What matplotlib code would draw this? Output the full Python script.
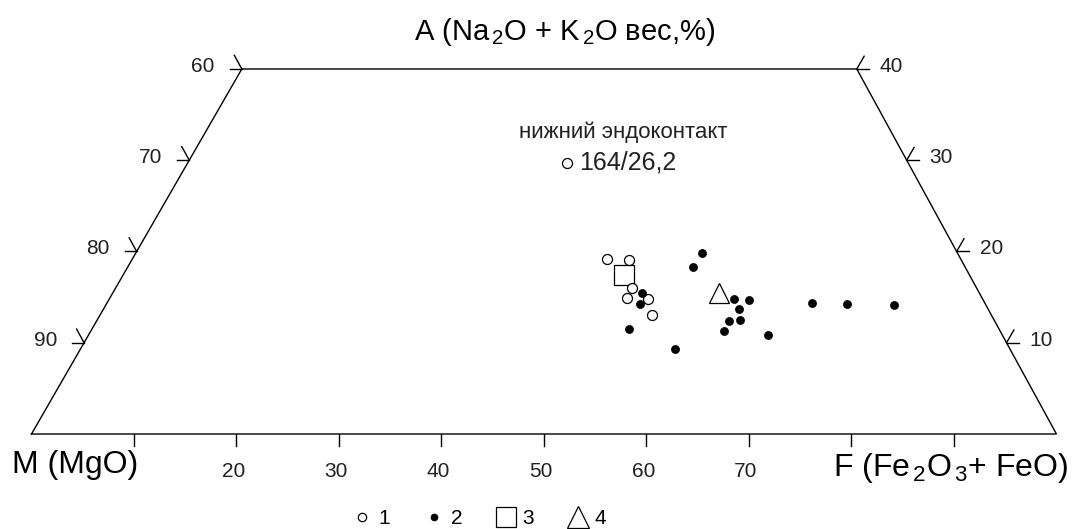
import matplotlib
matplotlib.use('Agg')
import matplotlib.pyplot as plt
from matplotlib.lines import Line2D

plt.rcParams['font.family'] = ['Liberation Sans', 'DejaVu Sans']
plt.rcParams['mathtext.fontset'] = 'custom'
plt.rcParams['mathtext.rm'] = 'Liberation Sans'
plt.rcParams['mathtext.it'] = 'Liberation Sans'

# ---- data: A = Na2O+K2O, F = Fe2O3+FeO, M = MgO (wt %), M = 100 - A - F ----
g1_A = [19.2, 19.1, 16.0, 14.9, 14.8, 13.0]
g1_F = [46.3, 48.5, 50.4, 50.5, 52.6, 53.9]
g2_A = [15.5, 14.2, 11.5, 9.3, 19.8, 18.3, 14.8, 14.7, 13.7, 12.4, 12.5, 11.3, 10.8, 14.4, 14.2, 14.1]
g2_F = [51.6, 52.1, 52.4, 58.0, 55.3, 55.2, 60.9, 62.5, 62.0, 61.7, 62.7, 61.8, 66.3, 68.8, 72.3, 76.9]
g3_A = [17.4]
g3_F = [48.9]
g4_A = [15.4]
g4_F = [59.2]
endo_A = [29.7]
endo_F = [37.0]
endo_label = "164/26,2"
endo_title = "нижний эндоконтакт"

A_top = 40
left_tick_M = [60, 70, 80, 90]
right_tick_A = [40, 30, 20, 10]
base_tick_F = [10, 20, 30, 40, 50, 60, 70, 80, 90]
base_label_F = [20, 30, 40, 50, 60, 70]
legend_labels = ["1", "2", "3", "4"]

SH = 0.513  # horizontal shift per unit A


def tx(A, F):
    return [f + SH * a for a, f in zip(A, F)], list(A)


fig = plt.figure(figsize=(10.83, 5.29), dpi=100)
ax = fig.add_axes([0, 0, 1, 1])
ax.set_xlim(-3.073, 102.59)
ax.set_ylim(-10.41, 47.56)
ax.axis('off')

# outline
ox, oy = tx([0, 0, A_top, A_top, 0], [0, 100, 100 - A_top, 0, 0])
ax.plot(ox, oy, color='black', lw=1.0, solid_joinstyle='miter')

# left ticks (M edge, F=0)
for m in left_tick_M:
    a = 100 - m
    x0 = SH * a
    ax.plot([x0, x0 - 1.17], [a, a], color='black', lw=1.0)
    t = 1.5
    ax.plot([x0, (0 - t) + SH * (a + t)], [a, a + t], color='black', lw=1.0)
    ax.text(x0 - 2.63, a + 0.3, str(m), ha='right', va='center', fontsize=15, color='#222222')

# right ticks (M=0 edge)
for a in right_tick_A:
    f = 100 - a
    x0 = f + SH * a
    ax.plot([x0, x0 + 1.17], [a, a], color='black', lw=1.0)
    t = 1.4
    ax.plot([x0, f + SH * (a + t)], [a, a + t], color='black', lw=1.0)
    ax.text(x0 + 2.24, a + 0.3, str(a), ha='left', va='center', fontsize=15, color='#222222')

# base ticks
for f in base_tick_F:
    ax.plot([f, f], [0, -1.315], color='black', lw=1.0)
for f in base_label_F:
    ax.text(f - 0.3, -4.16, str(f), ha='center', va='center', fontsize=15, color='#222222')

ax.text(-1.9, -3.4, "M (MgO)", ha='left', va='center', fontsize=23)
ax.text(78.2, -3.7, r"F (Fe$_{\,2}$O$_{\,3}$+ FeO)", ha='left', va='center', fontsize=23)
ax.text(52.05, 44.0, r"A (Na$_{\,2}$O + K$_{\,2}$O вес,%)", ha='center', va='center', fontsize=21)

# data
x3, y3 = tx(g3_A, g3_F)
ax.plot(x3, y3, ls='none', marker='s', ms=13.7, mfc='white', mec='black', mew=0.9, zorder=3)
x1, y1 = tx(g1_A, g1_F)
ax.plot(x1, y1, ls='none', marker='o', ms=7.2, mfc='white', mec='black', mew=0.9, zorder=4)
x2, y2 = tx(g2_A, g2_F)
ax.plot(x2, y2, ls='none', marker='o', ms=5.8, mfc='black', mec='black', mew=0.5, zorder=5)
x4, y4 = tx(g4_A, g4_F)
ax.plot(x4, y4, ls='none', marker='^', ms=15, mfc='none', mec='black', mew=0.9, zorder=3)
xe, ye = tx(endo_A, endo_F)
ax.plot(xe, ye, ls='none', marker='o', ms=7.2, mfc='white', mec='black', mew=0.9, zorder=4)
ax.text(xe[0] + 1.17, ye[0], endo_label, ha='left', va='center', fontsize=18, color='#222222')
ax.text(xe[0] + 5.5, ye[0] + 3.4, endo_title, ha='center', va='center', fontsize=16, color='#222222')

handles = [
    Line2D([], [], ls='none', marker='o', ms=6, mfc='white', mec='black', mew=0.9),
    Line2D([], [], ls='none', marker='o', ms=4.5, mfc='black', mec='black'),
    Line2D([], [], ls='none', marker='s', ms=15, mfc='white', mec='black', mew=0.9),
    Line2D([], [], ls='none', marker='^', ms=16, mfc='white', mec='black', mew=0.9),
]
fig.legend(handles, legend_labels, loc='center', bbox_to_anchor=(0.4422, 0.02),
           ncol=4, frameon=False, fontsize=15, handlelength=1.0,
           handletextpad=0.3, columnspacing=1.6, borderpad=0)

fig.savefig('out.png', dpi=100)
